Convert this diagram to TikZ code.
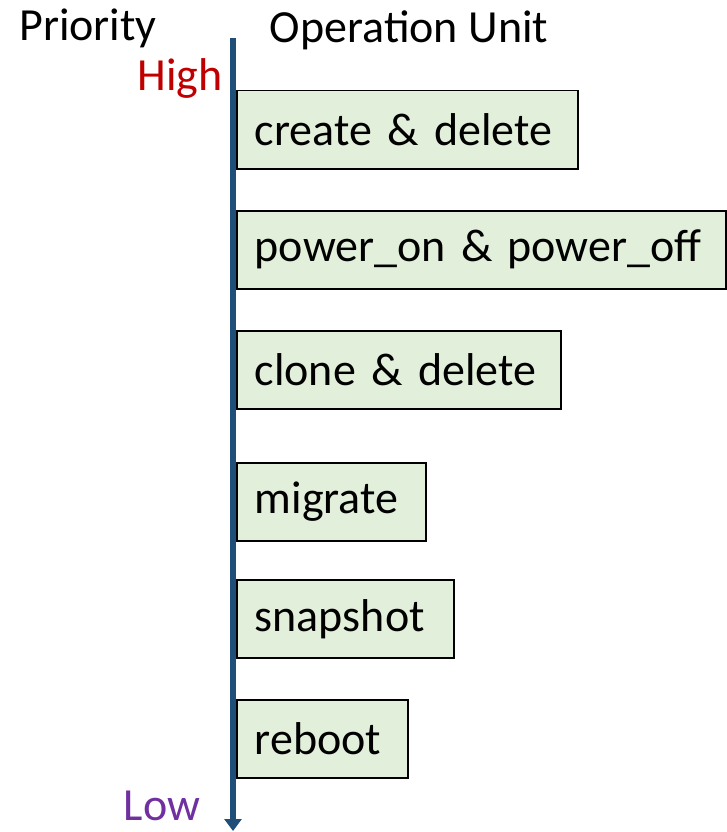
\documentclass[tikz,border=0pt]{standalone}
\usepackage{fontspec}
\setmainfont{Carlito}
\usepackage{tikz}
\usetikzlibrary{arrows.meta,positioning}
\definecolor{axisblue}{HTML}{1F4E79}
\definecolor{unitgreen}{HTML}{E2EFDA}
\definecolor{highred}{HTML}{C00000}
\definecolor{lowpurple}{HTML}{7030A0}

\begin{document}
\begin{tikzpicture}[x=1pt, y=-1pt,
    every node/.style={font=\fontsize{46pt}{50pt}\selectfont},
    unit/.style={draw=black, line width=1.5pt, fill=unitgreen, anchor=north west,
        minimum height=78pt, inner xsep=18pt, align=left},
    axis/.style={axisblue, line width=6pt, -{Triangle[width=17pt, length=12pt]}}]
    \useasboundingbox (0,0) rectangle (726,832);

    % headings
    \node (priority) at (88,28) {Priority};
    \node (opunit) at (409,30) {Operation Unit};
    \node[text=highred] (high) at (180,78) {High};
    \node[text=lowpurple] (low) at (162,806) {Low};

    % operation units, highest first
    \node[unit, text width=305pt] (create) at (236,90) {create \& delete};
    \node[unit, text width=453pt] (power) at (236,210) {power\_on \& power\_off};
    \node[unit, text width=288pt] (clone) at (236,330) {clone \& delete};
    \node[unit, text width=153pt] (migrate) at (236,462) {migrate};
    \node[unit, text width=181pt] (snapshot) at (236,579) {snapshot};
    \node[unit, text width=135pt] (reboot) at (236,699) {reboot};

    \coordinate (top) at (233,38);
    \coordinate (bottom) at (233,831);
    \draw[axis] (top) -- (bottom);
\end{tikzpicture}
\end{document}
